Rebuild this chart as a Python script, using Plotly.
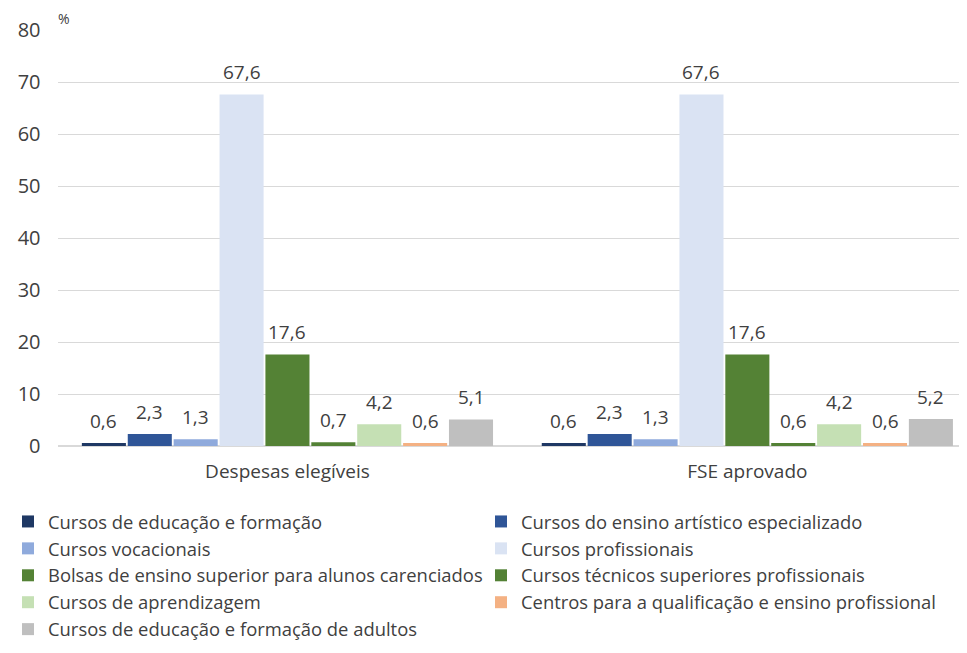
import plotly.graph_objects as go

categories = ["Despesas elegíveis", "FSE aprovado"]
series_names = [
    "Cursos de educação e formação",
    "Cursos do ensino artístico especializado",
    "Cursos vocacionais",
    "Cursos profissionais",
    "Bolsas de ensino superior para alunos carenciados",
    "Cursos técnicos superiores profissionais",
    "Cursos de aprendizagem",
    "Centros para a qualificação e ensino profissional",
    "Cursos de educação e formação de adultos",
]
despesas_elegiveis = [0.6, 2.3, 1.3, 67.6, 17.6, 0.7, 4.2, 0.6, 5.1]
fse_aprovado = [0.6, 2.3, 1.3, 67.6, 17.6, 0.6, 4.2, 0.6, 5.2]
colors = ["#1F3864", "#2F5597", "#8FAADC", "#DAE3F3", "#548235",
          "#538135", "#C5E0B4", "#F4B183", "#BFBFBF"]
y_ticks = [0, 10, 20, 30, 40, 50, 60, 70, 80]

FONT = "Open Sans"
TXT = "#404040"
BARGAP = 0.102
GROUPGAP = 0.04

fig = go.Figure()
n = len(series_names)
slot = (1 - BARGAP) / n
for i, name in enumerate(series_names):
    vals = [despesas_elegiveis[i], fse_aprovado[i]]
    fig.add_trace(go.Bar(
        name=name,
        x=categories,
        y=vals,
        marker=dict(color=colors[i], line=dict(width=0)),
    ))
    off = -(1 - BARGAP) / 2 + slot * (i + 0.5)
    for ci, v in enumerate(vals):
        fig.add_annotation(
            x=ci + off, y=v, xref="x", yref="y",
            text=f"{v:.1f}".replace(".", ","), showarrow=False,
            yanchor="bottom", xanchor="center", yshift=7,
            font=dict(family=FONT, size=19, color=TXT),
        )

fig.update_layout(
    width=967, height=653,
    margin=dict(l=0, r=0, t=22, b=215),
    paper_bgcolor="white", plot_bgcolor="white",
    barmode="group", bargap=BARGAP, bargroupgap=GROUPGAP,
    font=dict(family=FONT, color=TXT),
    showlegend=True,
    legend=dict(
        orientation="h", x=0, xanchor="left",
        y=-0.137, yanchor="top",
        entrywidth=428, entrywidthmode="pixels",
        font=dict(family=FONT, size=18.4, color=TXT),
        itemwidth=30, traceorder="normal",
    ),
)
fig.update_xaxes(
    type="category", domain=[49.5 / 967, 1], range=[-0.5, 1.495],
    showgrid=False, showline=False, ticks="",
    tickfont=dict(family=FONT, size=19, color=TXT), ticklabelstandoff=12,
)
fig.update_yaxes(
    range=[0, 80], tickvals=y_ticks, showgrid=True, gridcolor="#D9D9D9", gridwidth=1,
    zeroline=True, zerolinecolor="#D9D9D9", zerolinewidth=1.5, automargin=False,
    tickfont=dict(family=FONT, size=20, color=TXT), ticklabelstandoff=16,
)
fig.add_annotation(text="%", x=49.5 / 967, xref="paper", y=1, yref="paper", xanchor="left",
                   yanchor="bottom", showarrow=False, xshift=-2, yshift=0,
                   font=dict(family=FONT, size=14, color=TXT))

fig.write_html("out.html")
